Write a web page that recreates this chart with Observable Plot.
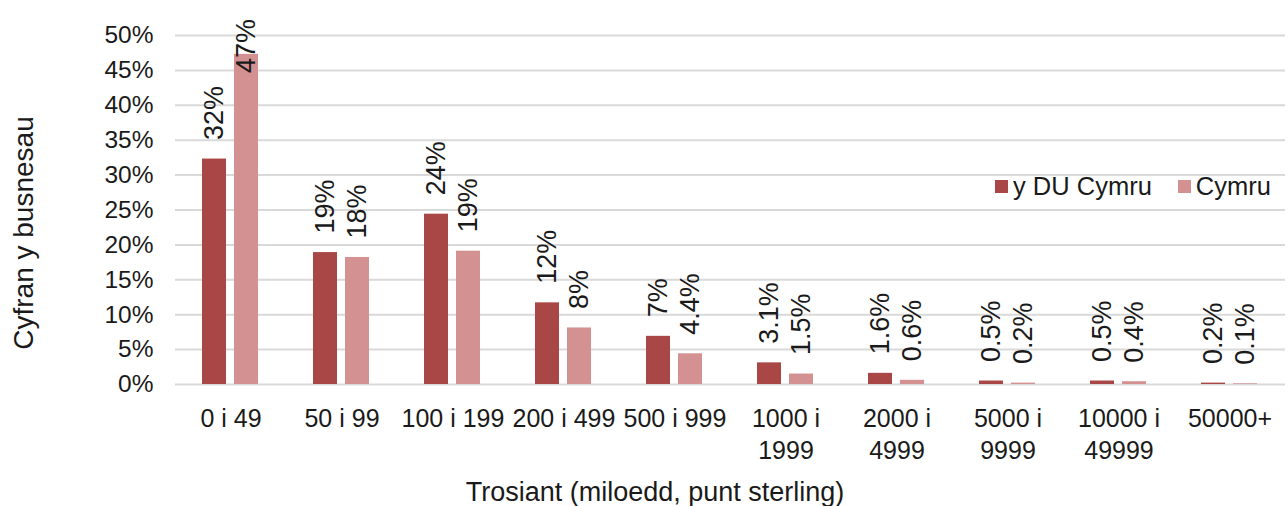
<!DOCTYPE html>
<html>
<head>
<meta charset="utf-8">
<script src="https://cdn.jsdelivr.net/npm/d3@7"></script>
<script src="https://cdn.jsdelivr.net/npm/@observablehq/plot@0.6"></script>
<style>
  body { margin: 0; background: #fff; font-family: "Liberation Sans", Arial, sans-serif; }
  #wrap { position: relative; width: 1288px; height: 506px; overflow: hidden; }
  .ytitle { position: absolute; left: 24px; top: 233px; transform: translate(-50%, -50%) rotate(-90deg); font-size: 28px; color: #1a1a1a; white-space: nowrap; }
  .xtitle { position: absolute; left: 655px; top: 492px; transform: translate(-50%, -50%); font-size: 27px; color: #1a1a1a; white-space: nowrap; }
  .legend { position: absolute; left: 995px; top: 172px; font-size: 25.5px; color: #1a1a1a; white-space: nowrap; display: flex; align-items: center; }
  .legend .sw { display: inline-block; width: 13px; height: 13px; margin-right: 5px; }
  .legend .item { display: inline-flex; align-items: center; margin-right: 26px; }
</style>
</head>
<body>
<div id="wrap">
  <div id="chart"></div>
  <div class="ytitle">Cyfran y busnesau</div>
  <div class="xtitle">Trosiant (miloedd, punt sterling)</div>
  <div class="legend" id="legend"></div>
</div>
<script>
const categories = ["0 i 49", "50 i 99", "100 i 199", "200 i 499", "500 i 999", "1000 i 1999", "2000 i 4999", "5000 i 9999", "10000 i 49999", "50000+"];
const tickLabels = ["0 i 49", "50 i 99", "100 i 199", "200 i 499", "500 i 999", "1000 i\n1999", "2000 i\n4999", "5000 i\n9999", "10000 i\n49999", "50000+"];
const seriesNames = ["y DU Cymru", "Cymru"];
const ukValues = [32.3, 18.9, 24.4, 11.7, 6.9, 3.1, 1.6, 0.5, 0.5, 0.2];
const walesValues = [47.3, 18.2, 19.1, 8.1, 4.4, 1.5, 0.6, 0.2, 0.4, 0.1];
const ukLabels = ["32%", "19%", "24%", "12%", "7%", "3.1%", "1.6%", "0.5%", "0.5%", "0.2%"];
const walesLabels = ["47%", "18%", "19%", "8%", "4.4%", "1.5%", "0.6%", "0.2%", "0.4%", "0.1%"];
const yTicks = [0, 5, 10, 15, 20, 25, 30, 35, 40, 45, 50];
const colors = ["#a94646", "#d39191"];

const data = [];
categories.forEach((c, i) => {
  data.push({cat: c, series: seriesNames[0], value: ukValues[i], label: ukLabels[i]});
  data.push({cat: c, series: seriesNames[1], value: walesValues[i], label: walesLabels[i]});
});
const ticks = categories.map((c, i) => ({cat: c, text: tickLabels[i]}));

const chart = Plot.plot({
  width: 1288,
  height: 506,
  marginLeft: 172,
  marginRight: 1,
  marginTop: 35,
  marginBottom: 122,
  style: {fontFamily: "Liberation Sans, Arial, sans-serif", color: "#1a1a1a", background: "#fff"},
  fx: {domain: categories, padding: 0, axis: null},
  x: {domain: seriesNames, paddingInner: 0.2424, paddingOuter: 0.81, axis: null},
  y: {domain: [0, 50], axis: null},
  color: {domain: seriesNames, range: colors},
  marks: [
    Plot.ruleY(yTicks, {stroke: "#d9d9d9", strokeWidth: 2}),
    Plot.axisY({ticks: yTicks, tickFormat: d => d + "%", tickSize: 0, tickPadding: 22, fontSize: 24.5, fill: "#1a1a1a", label: null}),
    Plot.barY(data, {fx: "cat", x: "series", y: "value", fill: "series"}),
    Plot.text(data, {fx: "cat", x: "series", y: d => Math.min(d.value, 41.9), dy: -19, text: "label", rotate: -90, textAnchor: "start", fontSize: 27, fill: "#1a1a1a"}),
    Plot.text(ticks, {fx: "cat", y: 0, dy: 19, text: "text", lineAnchor: "top", lineHeight: 1.3, fontSize: 25, fill: "#1a1a1a"})
  ]
});
document.getElementById("chart").appendChild(chart);

const legend = document.getElementById("legend");
seriesNames.forEach((s, i) => {
  const item = document.createElement("span");
  item.className = "item";
  const sw = document.createElement("span");
  sw.className = "sw";
  sw.style.background = colors[i];
  item.appendChild(sw);
  item.appendChild(document.createTextNode(s));
  legend.appendChild(item);
});
</script>
</body>
</html>
